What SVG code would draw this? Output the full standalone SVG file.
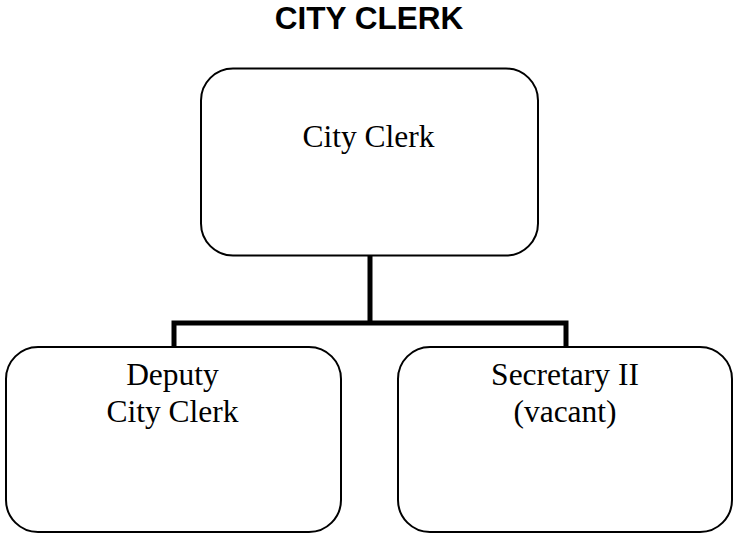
<svg xmlns="http://www.w3.org/2000/svg" width="735" height="534" viewBox="0 0 735 534">
<style>
.box{fill:#fff;stroke:#000;stroke-width:2}
.lbl{font-family:"Liberation Serif","Times New Roman",serif;font-size:31.5px;fill:#000;text-anchor:middle}
.title{font-family:"Liberation Sans",Arial,sans-serif;font-size:31.5px;font-weight:bold;fill:#000;text-anchor:middle}
.conn{fill:none;stroke:#000;stroke-width:5;stroke-linecap:square}
</style>
<rect width="735" height="534" fill="#fff"/>
<text class="title" x="369" y="29">CITY CLERK</text>
<g id="connectors">
<path class="conn" d="M370,256 V323 M174,347 V323 H566 V347"/>
</g>
<g id="city-clerk">
<rect class="box" x="201" y="68.5" width="337" height="187" rx="32" ry="32"/>
<text class="lbl" x="368.5" y="147">City Clerk</text>
</g>
<g id="deputy-city-clerk">
<rect class="box" x="6" y="347" width="335" height="185" rx="32" ry="32"/>
<text class="lbl" x="172.5" y="385">Deputy</text>
<text class="lbl" x="172.5" y="422">City Clerk</text>
</g>
<g id="secretary-ii">
<rect class="box" x="398" y="347" width="334" height="185" rx="32" ry="32"/>
<text class="lbl" x="565" y="385">Secretary II</text>
<text class="lbl" x="565" y="422">(vacant)</text>
</g>
</svg>
